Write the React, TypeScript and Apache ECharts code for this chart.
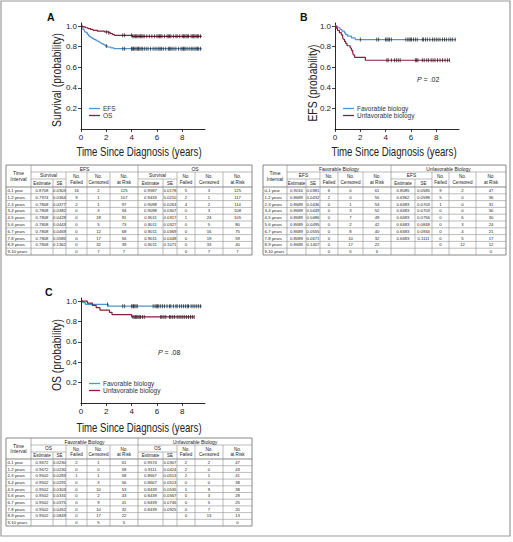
import React, { useEffect, useRef } from 'react';
import * as echarts from 'echarts';

// ---------------- Data ----------------
const xTicks = [0, 2, 4, 6, 8];
const yTicks = [0.2, 0.4, 0.6, 0.8, 1.0];

// Panel A: Kaplan-Meier steps [years, probability]
const efsAll = [[0,1],[0.08,0.984],[0.15,0.968],[0.25,0.96],[0.3,0.944],[0.4,0.936],[0.5,0.92],[0.6,0.904],[0.7,0.896],[0.8,0.888],[0.9,0.88],[1.0,0.871],[1.15,0.863],[1.25,0.855],[1.4,0.846],[1.5,0.838],[1.6,0.83],[1.75,0.822],[1.85,0.814],[1.95,0.806],[2.1,0.797],[2.35,0.789],[2.6,0.781],[9.55,0.781]];
const osAll = [[0,1],[0.15,0.992],[0.35,0.984],[0.55,0.976],[0.75,0.968],[0.95,0.959],[1.3,0.951],[1.85,0.943],[2.2,0.935],[2.35,0.926],[2.5,0.918],[2.65,0.91],[4.05,0.901],[9.55,0.901]];
const efsAllCensor = [2.0,3.3,3.45,4.0,4.05,4.15,4.25,4.35,4.45,4.55,4.65,4.75,4.85,5.0,5.15,5.3,5.5,5.7,5.85,6.0,6.15,6.25,6.35,6.5,6.7,6.9,7.0,7.1,7.2,7.35,7.5,7.7,7.9,8.0,8.1,8.2,8.3,8.45,8.6,8.75,8.85,9.0,9.1,9.2,9.3,9.45];
const osAllCensor = [0.05,2.0,2.2,3.3,3.45,4.0,4.1,4.2,4.3,4.4,4.5,4.6,4.7,4.8,4.9,5.0,5.2,5.4,5.6,5.8,6.0,6.1,6.2,6.3,6.4,6.6,6.8,6.9,7.0,7.1,7.3,7.5,7.6,7.8,8.0,8.1,8.2,8.3,8.4,8.5,8.7,8.8,8.9,9.0,9.1,9.2,9.3,9.45];

// Panel B: EFS by biology
const efsFav = [[0,1],[0.2,0.984],[0.4,0.967],[0.55,0.951],[0.75,0.934],[0.85,0.918],[1.0,0.902],[1.3,0.885],[1.6,0.869],[9.55,0.869]];
const efsUnfav = [[0,1],[0.1,0.979],[0.2,0.957],[0.35,0.936],[0.5,0.915],[0.6,0.894],[0.65,0.872],[0.75,0.851],[0.85,0.83],[0.95,0.809],[1.2,0.787],[1.3,0.764],[1.4,0.742],[1.45,0.719],[1.55,0.696],[2.4,0.668],[9.05,0.668]];
const efsFavCensor = [2.0,3.3,3.45,4.0,4.1,4.2,4.3,4.45,5.6,5.75,5.85,5.95,6.05,6.2,6.35,6.5,6.9,7.0,7.15,7.3,7.5,7.7,7.85,8.0,8.15,8.3,8.5,8.65,8.8,9.0,9.15,9.3,9.5];
const efsUnfavCensor = [4.1,4.2,4.45,4.7,4.85,5.0,5.15,6.35,6.45,6.55,6.9,7.05,7.25,7.4,7.6,7.75,7.9,8.1,8.3,8.5,8.7,8.9,9.05];

// Panel C: OS by biology
const osFav = [[0,1],[0.15,0.984],[0.35,0.967],[2.15,0.95],[9.55,0.95]];
const osUnfav = [[0,1],[0.5,0.979],[0.9,0.957],[1.2,0.935],[1.5,0.911],[2.25,0.889],[2.45,0.867],[4.0,0.844],[8.95,0.844]];
const osFavCensor = [0.05,2.1,3.3,3.45,4.0,4.1,4.15,4.25,4.35,4.45,5.7,5.85,5.95,6.05,6.15,6.3,6.45,6.6,6.8,7.0,7.1,7.3,7.5,7.6,7.8,7.95,8.1,8.25,8.4,8.5,8.7,8.85,9.0,9.15,9.3,9.45];
const osUnfavCensor = [4.1,4.2,4.3,4.4,4.5,4.6,4.7,4.85,5.0,6.3,6.4,6.55,6.7,7.0,7.1,7.25,7.4,7.6,7.75,7.9,8.05,8.2,8.35,8.5,8.65,8.8,8.95];

// Life tables: [estimate, SE, failed, censored, at risk]
const intervals = ['0-1 year','1-2 years','2-3 years','3-4 years','4-5 years','5-6 years','6-7 years','7-8 years','8-9 years','9-10 years'];
const tableA_EFS = [
  ['0.8708','0.0303','16','2','125'],
  ['0.7974','0.0364','9','1','107'],
  ['0.7808','0.0377','2','1','97'],
  ['0.7808','0.0382','0','3','94'],
  ['0.7808','0.0428','0','18','91'],
  ['0.7808','0.0443','0','5','73'],
  ['0.7808','0.0469','0','12','68'],
  ['0.7808','0.0585','0','17','56'],
  ['0.7808','0.1362','0','32','39'],
  ['','','0','7','7'],
];
const tableA_OS = [
  ['0.9587','0.0178','5','3','125'],
  ['0.9433','0.0210','2','1','117'],
  ['0.9098','0.0263','4','2','114'],
  ['0.9098','0.0307','0','3','108'],
  ['0.9011','0.0317','1','24','105'],
  ['0.9011','0.0327','0','5','80'],
  ['0.9011','0.0369','0','16','75'],
  ['0.9011','0.0448','0','19','59'],
  ['0.9011','0.1071','0','33','40'],
  ['','','0','7','7'],
];
const tableB_Fav = [
  ['0.9016','0.0381','6','0','61'],
  ['0.8689','0.0432','2','0','55'],
  ['0.8689','0.0436','0','1','53'],
  ['0.8689','0.0449','0','3','52'],
  ['0.8689','0.0486','0','7','49'],
  ['0.8689','0.0495','0','2','42'],
  ['0.8689','0.0555','0','8','40'],
  ['0.8689','0.0671','0','10','32'],
  ['0.8689','0.1407','0','17','22'],
  ['','','0','5','5'],
];
const tableB_Unfav = [
  ['0.8085','0.0585','9','2','47'],
  ['0.6962','0.0598','5','0','36'],
  ['0.6683','0.0703','1','0','31'],
  ['0.6683','0.0703','0','0','30'],
  ['0.6683','0.0756','0','6','30'],
  ['0.6683','0.0848','0','3','24'],
  ['0.6683','0.0934','0','4','21'],
  ['0.6683','0.1111','0','5','17'],
  ['','','0','12','12'],
  ['','','','','0'],
];
const tableC_Fav = [
  ['0.9672','0.0230','2','1','61'],
  ['0.9672','0.0230','0','0','58'],
  ['0.9502','0.0283','1','1','58'],
  ['0.9502','0.0291','0','3','56'],
  ['0.9502','0.0303','0','10','53'],
  ['0.9502','0.0331','0','2','43'],
  ['0.9502','0.0375','0','9','41'],
  ['0.9502','0.0452','0','10','32'],
  ['0.9502','0.0849','0','17','22'],
  ['','','0','5','5'],
];
const tableC_Unfav = [
  ['0.9574','0.0307','2','2','47'],
  ['0.9111','0.0424','2','0','43'],
  ['0.8667','0.0513','2','1','41'],
  ['0.8667','0.0513','0','0','38'],
  ['0.8439','0.0535','1','9','38'],
  ['0.8439','0.0567','0','3','28'],
  ['0.8439','0.0746','0','5','25'],
  ['0.8439','0.0925','0','7','20'],
  ['','','0','13','13'],
  ['','','','','0'],
];

// ---------------- Styles ----------------
const BLUE = '#4f93cf';
const RED = '#8a1c3c';
const TICK = '#1a1a1a';
const baseFont = "'Liberation Sans', Arial, sans-serif";

function survAt(curve: number[][], t: number) {
  let v = curve[0][1];
  for (const p of curve) { if (p[0] <= t) v = p[1]; }
  return v;
}

function makeTable(L: any, groups: string[], sub: string, left: string[][], right: string[][]) {
  const els: any[] = [];
  const c = L.cols, h = L.hdr;
  const n = intervals.length;
  const rowH = (L.bottom - h[3]) / n;
  const lineC = '#8f8f8f';
  const ln = (x1: number, y1: number, x2: number, y2: number, w = 0.6, col = lineC) =>
    els.push({ type: 'line', silent: true, shape: { x1, y1, x2, y2 }, style: { stroke: col, lineWidth: w } });
  const tx = (text: string, x: number, y: number, size: number, align = 'center') =>
    els.push({ type: 'text', silent: true, x, y, style: { text, fontSize: size, fontFamily: baseFont, fill: '#222', align, verticalAlign: 'middle', lineHeight: size * 1.15 } });

  els.push({ type: 'rect', silent: true, shape: { x: c[0], y: h[0], width: c[11] - c[0], height: L.bottom - h[0] }, style: { fill: 'none', stroke: '#6a6a6a', lineWidth: 0.8 } });
  ln(c[1], h[1], c[11], h[1]);
  ln(c[1], h[2], c[3], h[2]);
  ln(c[6], h[2], c[8], h[2]);
  ln(c[0], h[3], c[11], h[3], 0.8, '#6a6a6a');
  for (let i = 1; i < n; i++) ln(c[0], h[3] + i * rowH, c[11], h[3] + i * rowH);
  ln(c[1], h[0], c[1], L.bottom, 0.7);
  ln(c[6], h[0], c[6], L.bottom, 0.7);
  ln(c[2], h[2], c[2], L.bottom);
  ln(c[7], h[2], c[7], L.bottom);
  [3, 4, 5, 8, 9, 10].forEach((k) => ln(c[k], h[1], c[k], L.bottom));

  tx('Time\nInterval', (c[0] + c[1]) / 2, (h[0] + h[3]) / 2, 5);
  tx(groups[0], (c[1] + c[6]) / 2, (h[0] + h[1]) / 2, 5);
  tx(groups[1], (c[6] + c[11]) / 2, (h[0] + h[1]) / 2, 5);
  [1, 6].forEach((s) => {
    tx(sub, (c[s] + c[s + 2]) / 2, (h[1] + h[2]) / 2, 4.8);
    tx('Estimate', (c[s] + c[s + 1]) / 2, (h[2] + h[3]) / 2, 4.5);
    tx('SE', (c[s + 1] + c[s + 2]) / 2, (h[2] + h[3]) / 2, 4.5);
    tx('No.\nFailed', (c[s + 2] + c[s + 3]) / 2, (h[1] + h[3]) / 2, 4.6);
    tx('No.\nCensored', (c[s + 3] + c[s + 4]) / 2, (h[1] + h[3]) / 2, 4.6);
    tx('No.\nat Risk', (c[s + 4] + c[s + 5]) / 2, (h[1] + h[3]) / 2, 4.6);
  });
  for (let i = 0; i < n; i++) {
    const y = h[3] + (i + 0.5) * rowH;
    tx(intervals[i], c[0] + 1.5, y, 4.2, 'left');
    for (let k = 0; k < 5; k++) {
      tx(left[i][k], (c[1 + k] + c[2 + k]) / 2, y, 4.2);
      tx(right[i][k], (c[6 + k] + c[7 + k]) / 2, y, 4.2);
    }
  }
  return els;
}

const layoutA = { cols: [6, 31, 53, 66, 87, 110, 138, 163, 177, 195, 223, 252], hdr: [165, 172, 179, 187], bottom: 255 };
const layoutB = { cols: [263, 287, 306, 320, 338, 363, 391, 415, 432, 449, 476, 506], hdr: [165, 172, 179, 187], bottom: 255 };
const layoutC = { cols: [6, 31, 53, 66, 87, 110, 138, 163, 177, 195, 223, 252], hdr: [438, 445, 452, 459], bottom: 526 };

function axisPair(i: number) {
  const x = {
    type: 'value', gridIndex: i, min: 0, max: 9.8,
    axisLine: { lineStyle: { color: '#111', width: 0.9 } },
    axisTick: { length: 3, lineStyle: { color: '#111', width: 0.8 }, customValues: xTicks },
    axisLabel: { customValues: xTicks, fontSize: 8, color: '#222', fontFamily: baseFont, margin: 4,
      formatter: (v: number) => (xTicks.includes(v) ? String(v) : '') },
    splitLine: { show: false },
  };
  const y = {
    type: 'value', gridIndex: i, min: 0, max: 1.03,
    axisLine: { show: true, lineStyle: { color: '#111', width: 0.9 } },
    axisTick: { show: true, length: 3, lineStyle: { color: '#111', width: 0.8 }, customValues: yTicks },
    axisLabel: { customValues: yTicks, fontSize: 8, color: '#222', fontFamily: baseFont, margin: 4,
      formatter: (v: number) => (yTicks.some((t) => Math.abs(t - v) < 1e-6) ? v.toFixed(1) : '') },
    splitLine: { show: false },
  };
  return { x, y };
}

function kmLine(name: string, data: number[][], color: string, idx: number) {
  return { type: 'line', name, xAxisIndex: idx, yAxisIndex: idx, data, step: 'end', showSymbol: false, symbol: 'none',
    lineStyle: { color, width: 1.2 }, itemStyle: { color }, silent: true };
}
function censor(name: string, curve: number[][], times: number[], idx: number) {
  return { type: 'scatter', name, xAxisIndex: idx, yAxisIndex: idx, data: times.map((t) => [t, survAt(curve, t)]),
    symbol: 'rect', symbolSize: [0.9, 4], itemStyle: { color: TICK }, silent: true, z: 3 };
}

export default function App() {
  const ref = useRef<HTMLDivElement>(null);
  useEffect(() => {
    if (!ref.current) return;
    const chart = echarts.init(ref.current, undefined, { renderer: 'svg' });
    const a0 = axisPair(0), a1 = axisPair(1), a2 = axisPair(2);
    const legendCommon = { orient: 'vertical', icon: 'rect', itemWidth: 11, itemHeight: 1.3, itemGap: 0, padding: 0,
      textStyle: { fontSize: 6.5, color: '#333', fontFamily: baseFont, padding: [0, 0, 0, -2] }, selectedMode: false };
    const titleText = (text: string, x: number, y: number, sx: number, rot = 0) => ({
      type: 'text', silent: true, x, y, rotation: rot, scaleX: sx,
      style: { text, fontSize: 12.5, fontFamily: baseFont, fill: '#222', align: 'center', verticalAlign: 'middle' },
    });
    const letter = (text: string, x: number, y: number) => ({
      type: 'text', silent: true, x, y, style: { text, fontSize: 10.5, fontWeight: 'bold', fontFamily: baseFont, fill: '#111', align: 'left', verticalAlign: 'middle' },
    });
    const pText = (val: string, x: number, y: number) => ({
      type: 'text', silent: true, x, y,
      style: { text: '{i|P} = ' + val, fontSize: 7, fontFamily: baseFont, fill: '#222', align: 'left', verticalAlign: 'middle',
        rich: { i: { fontStyle: 'italic', fontSize: 7, fontFamily: baseFont, fill: '#222' } } },
    });

    const option: any = {
      animation: false,
      backgroundColor: '#fff',
      grid: [
        { left: 81, top: 23, width: 124, height: 106 },
        { left: 335, top: 23, width: 124, height: 106 },
        { left: 81, top: 298, width: 124, height: 105 },
      ],
      xAxis: [a0.x, a1.x, a2.x],
      yAxis: [a0.y, a1.y, a2.y],
      legend: [
        { ...legendCommon, data: ['EFS', 'OS'], left: 89, top: 105 },
        { ...legendCommon, data: ['Favorable biology', 'Unfavorable biology'], left: 343, top: 105 },
        { ...legendCommon, data: ['Favorable biology', 'Unfavorable biology'], left: 89, top: 380 },
      ],
      series: [
        kmLine('EFS', efsAll, BLUE, 0),
        kmLine('OS', osAll, RED, 0),
        censor('EFS censored', efsAll, efsAllCensor, 0),
        censor('OS censored', osAll, osAllCensor, 0),
        kmLine('Favorable biology', efsFav, BLUE, 1),
        kmLine('Unfavorable biology', efsUnfav, RED, 1),
        censor('Favorable EFS censored', efsFav, efsFavCensor, 1),
        censor('Unfavorable EFS censored', efsUnfav, efsUnfavCensor, 1),
        kmLine('Favorable biology', osFav, BLUE, 2),
        kmLine('Unfavorable biology', osUnfav, RED, 2),
        censor('Favorable OS censored', osFav, osFavCensor, 2),
        censor('Unfavorable OS censored', osUnfav, osUnfavCensor, 2),
      ],
      graphic: [
        { type: 'rect', silent: true, shape: { x: 1, y: 1, width: 509, height: 535 }, style: { fill: 'none', stroke: '#9a9a9a', lineWidth: 1.2 } },
        letter('A', 47, 17),
        letter('B', 300, 17),
        letter('C', 45, 292),
        titleText('Survival (probability)', 57, 80, 0.83, Math.PI / 2),
        titleText('EFS (probability)', 313, 83, 0.83, Math.PI / 2),
        titleText('OS (probability)', 57, 355, 0.83, Math.PI / 2),
        titleText('Time Since Diagnosis (years)', 139, 152, 0.77),
        titleText('Time Since Diagnosis (years)', 394, 152, 0.77),
        titleText('Time Since Diagnosis (years)', 139, 428, 0.77),
        pText('.02', 417, 79),
        pText('.08', 158, 352),
        ...makeTable(layoutA, ['EFS', 'OS'], 'Survival', tableA_EFS, tableA_OS),
        ...makeTable(layoutB, ['Favorable Biology', 'Unfavorable Biology'], 'EFS', tableB_Fav, tableB_Unfav),
        ...makeTable(layoutC, ['Favorable Biology', 'Unfavorable Biology'], 'OS', tableC_Fav, tableC_Unfav),
      ],
    };
    chart.setOption(option);
    return () => chart.dispose();
  }, []);
  return <div ref={ref} style={{ position: 'absolute', left: 0, top: 0, width: 513, height: 542, background: '#fff' }} />;
}
